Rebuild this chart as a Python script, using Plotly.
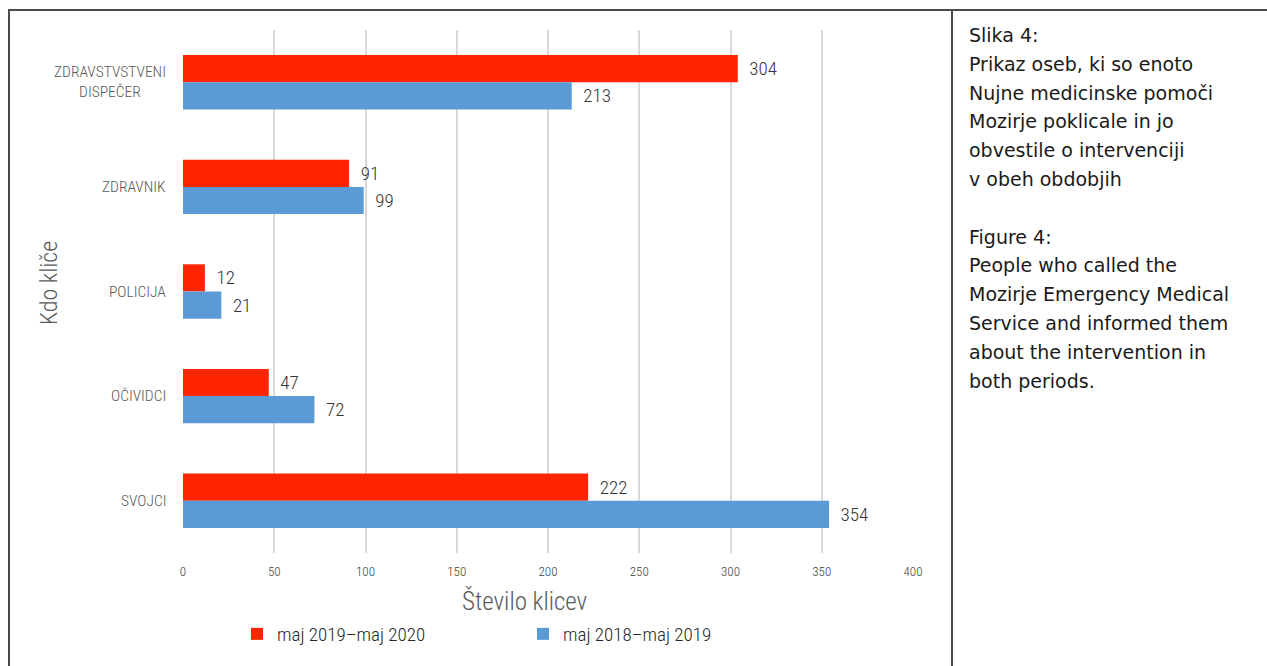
import plotly.graph_objects as go

# Categories listed top to bottom
categories = ["ZDRAVSTVSTVENI<br>DISPEČER", "ZDRAVNIK", "POLICIJA", "OČIVIDCI", "SVOJCI"]
category_keys = ["ZDRAVSTVSTVENI DISPEČER", "ZDRAVNIK", "POLICIJA", "OČIVIDCI", "SVOJCI"]

series_2019_2020 = [304, 91, 12, 47, 222]
series_2018_2019 = [213, 99, 21, 72, 354]

name_2019_2020 = "maj 2019–maj 2020"
name_2018_2019 = "maj 2018–maj 2019"

x_ticks = [0, 50, 100, 150, 200, 250, 300, 350, 400]

caption_lines = [
    "Slika 4:",
    "Prikaz oseb, ki so enoto",
    "Nujne medicinske pomoči",
    "Mozirje poklicale in jo",
    "obvestile o intervenciji",
    "v obeh obdobjih",
    "",
    "Figure 4:",
    "People who called the",
    "Mozirje Emergency Medical",
    "Service and informed them",
    "about the intervention in",
    "both periods.",
]

RED = "#ff2500"
BLUE = "#5b9bd5"
NARROW = "Roboto Condensed, Liberation Sans Narrow, DejaVu Sans Condensed, Arial Narrow, sans-serif"
CAPTION_FONT = "DejaVu Sans, Open Sans, sans-serif"

W, H = 1267, 666
L, R, T, B = 183, 913, 30, 553  # plot area in pixels


def px(p):
    return (p - L) / (R - L)


def py(q):
    return (B - q) / (B - T)


label_font = dict(family=NARROW, size=19, color="#333333", weight=300)

fig = go.Figure()
fig.add_trace(go.Bar(
    y=category_keys, x=series_2019_2020, orientation="h", name=name_2019_2020,
    marker=dict(color=RED, line=dict(width=0)),
    text=series_2019_2020, texttemplate="\u00a0\u00a0%{x}", textposition="outside",
    textfont=label_font, cliponaxis=False,
))
fig.add_trace(go.Bar(
    y=category_keys, x=series_2018_2019, orientation="h", name=name_2018_2019,
    marker=dict(color=BLUE, line=dict(width=0)),
    text=series_2018_2019, texttemplate="\u00a0\u00a0%{x}", textposition="outside",
    textfont=label_font, cliponaxis=False,
))

annotations = []
# Category labels, centred lines, right edge next to the plot
for key, label in zip(category_keys, categories):
    annotations.append(dict(
        x=px(168), xref="paper", y=key, yref="y", text=label, showarrow=False,
        xanchor="right", yanchor="middle", align="center",
        font=dict(family=NARROW, size=15.5, color="#595959", weight=300),
    ))
# Axis titles
annotations.append(dict(
    x=px(49), xref="paper", y=py(283), yref="paper", text="Kdo kliče", showarrow=False,
    textangle=-90, xanchor="center", yanchor="middle",
    font=dict(family=NARROW, size=24, color="#595959", weight=300),
))
annotations.append(dict(
    x=px(524), xref="paper", y=py(601), yref="paper", text="Število klicev", showarrow=False,
    xanchor="center", yanchor="middle",
    font=dict(family=NARROW, size=25, color="#595959", weight=300),
))
# Caption in the side panel
for i, line in enumerate(caption_lines):
    if not line:
        continue
    annotations.append(dict(
        x=px(967), xref="paper", y=py(35 + i * 28.8), yref="paper", text=line,
        showarrow=False, xanchor="left", yanchor="middle",
        font=dict(family=CAPTION_FONT, size=19, color="#1a1a1a"),
    ))

border = dict(color="#4a4a4a", width=2)
shapes = [
    dict(type="line", xref="paper", yref="paper", x0=px(8), x1=px(1267), y0=py(10), y1=py(10), line=border),
    dict(type="line", xref="paper", yref="paper", x0=px(9), x1=px(9), y0=py(10), y1=py(666), line=border),
    dict(type="line", xref="paper", yref="paper", x0=px(952), x1=px(952), y0=py(10), y1=py(666), line=border),
]

fig.update_layout(
    width=W, height=H,
    margin=dict(l=L, r=W - R, t=T, b=H - B, pad=0),
    paper_bgcolor="white", plot_bgcolor="white",
    barmode="group", bargap=0.48, bargroupgap=0,
    xaxis=dict(
        range=[0, 400], tickvals=x_ticks, showgrid=True, gridcolor="#d9d9d9", gridwidth=1.5,
        zeroline=False, showline=False, ticks="", ticklabelstandoff=9,
        tickfont=dict(family=NARROW, size=13, color="#404040", weight=300), fixedrange=True,
    ),
    yaxis=dict(
        autorange="reversed", showticklabels=False, showgrid=False, zeroline=False,
        showline=False, ticks="", fixedrange=True,
    ),
    showlegend=True,
    legend=dict(
        orientation="h", x=px(237), xanchor="left", y=py(634), yanchor="middle",
        entrywidth=241, entrywidthmode="pixels", traceorder="normal",
        font=dict(family=NARROW, size=19, color="#262626", weight=300), bgcolor="rgba(0,0,0,0)",
    ),
    annotations=annotations,
    shapes=shapes,
)

fig.write_html("out.html")
